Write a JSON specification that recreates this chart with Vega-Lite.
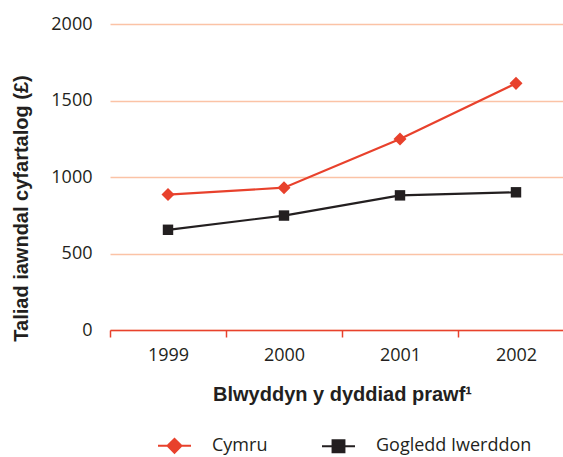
{
  "$schema": "https://vega.github.io/schema/vega-lite/v6.json",
  "width": 453,
  "height": 306,
  "autosize": {"type": "none"},
  "padding": {"left": 110, "top": 24, "right": 0, "bottom": 127},
  "background": "white",
  "data": {
    "values": [
      {"year": "1999", "series": "Cymru", "value": 885},
      {"year": "2000", "series": "Cymru", "value": 930},
      {"year": "2001", "series": "Cymru", "value": 1248},
      {"year": "2002", "series": "Cymru", "value": 1612},
      {"year": "1999", "series": "Gogledd Iwerddon", "value": 655},
      {"year": "2000", "series": "Gogledd Iwerddon", "value": 748},
      {"year": "2001", "series": "Gogledd Iwerddon", "value": 880},
      {"year": "2002", "series": "Gogledd Iwerddon", "value": 900}
    ]
  },
  "config": {
    "view": {"stroke": null},
    "font": "Open Sans",
    "axis": {"labelColor": "#231f20", "titleColor": "#231f20"}
  },
  "encoding": {
    "x": {
      "field": "year",
      "type": "nominal",
      "scale": {"range": [0, 464], "paddingInner": 0, "paddingOuter": 0},
      "axis": {
        "title": "Blwyddyn y dyddiad prawf¹",
        "labelAngle": 0,
        "labelFontSize": 18,
        "labelPadding": 9,
        "tickBand": "extent",
        "tickSize": 7,
        "tickColor": "#e8412c",
        "tickWidth": 1.5,
        "domainColor": "#e8412c",
        "domainWidth": 1.5,
        "grid": false,
        "titleFont": "Liberation Sans",
        "titleFontSize": 20,
        "titleFontWeight": "bold",
        "titleBaseline": "middle",
        "titleY": 64
      }
    },
    "y": {
      "field": "value",
      "type": "quantitative",
      "scale": {"domain": [0, 2000]},
      "axis": {
        "title": "Taliad iawndal cyfartalog (£)",
        "values": [0, 500, 1000, 1500, 2000],
        "format": "d",
        "domain": false,
        "ticks": false,
        "labelFontSize": 18,
        "labelPadding": 18,
        "gridColor": "#fbc3a6",
        "gridWidth": 1.5,
        "titleFont": "Liberation Sans",
        "titleFontSize": 20,
        "titleFontWeight": "bold",
        "titleBaseline": "middle",
        "titleX": -89,
        "titleY": 184
      }
    },
    "color": {
      "field": "series",
      "type": "nominal",
      "scale": {"domain": ["Cymru", "Gogledd Iwerddon"], "range": ["#e8412c", "#231f20"]},
      "legend": {
        "title": null,
        "orient": "none",
        "direction": "horizontal",
        "legendX": 47,
        "legendY": 404,
        "labelFontSize": 18,
        "labelColor": "#231f20",
        "labelOffset": 20,
        "columnPadding": 50,
        "symbolSize": 1089,
        "symbolStrokeWidth": 2,
        "encode": {
          "symbols": {
            "update": {
              "shape": {"signal": "datum.value === 'Cymru' ? 'M-1,0H1M-0.42,0L0,-0.42L0.42,0L0,0.42Z' : 'M-1,0H1M-0.36,-0.36H0.36V0.36H-0.36Z'"},
              "stroke": {"signal": "datum.value === 'Cymru' ? '#e8412c' : '#231f20'"},
              "fill": {"signal": "datum.value === 'Cymru' ? '#e8412c' : '#231f20'"},
              "strokeWidth": {"value": 2}
            }
          }
        }
      }
    }
  },
  "layer": [
    {
      "mark": {"type": "line", "strokeWidth": 2.2}
    },
    {
      "transform": [{"filter": "datum.series === 'Cymru'"}],
      "mark": {"type": "point", "filled": true, "opacity": 1, "size": 170, "shape": "M-1,0L0,-1L1,0L0,1Z"}
    },
    {
      "transform": [{"filter": "datum.series !== 'Cymru'"}],
      "mark": {"type": "point", "filled": true, "opacity": 1, "size": 170, "shape": "M-0.8,-0.8H0.8V0.8H-0.8Z"}
    }
  ]
}
